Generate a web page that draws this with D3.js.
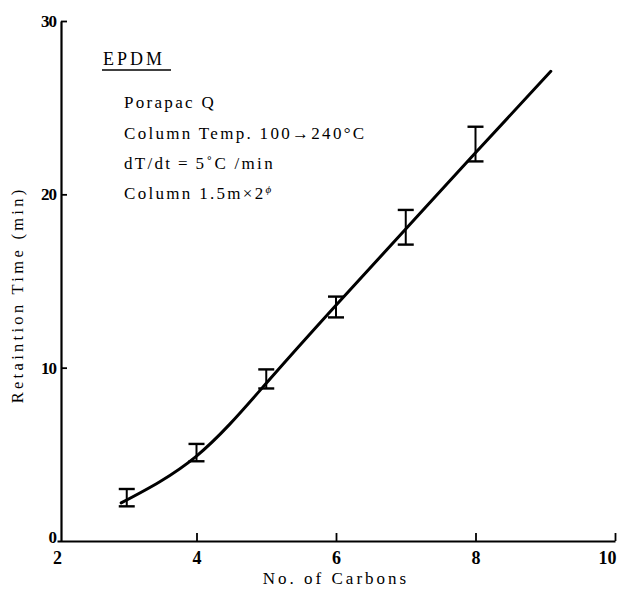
<!DOCTYPE html>
<html>
<head>
<meta charset="utf-8">
<script src="https://cdn.jsdelivr.net/npm/d3@7"></script>
<style>
  html, body { margin: 0; padding: 0; background: #fff; }
  svg text { font-family: "Liberation Serif", "DejaVu Serif", serif; fill: #000; }
</style>
</head>
<body>
<svg id="chart" width="622" height="592"></svg>
<script>
// Retention time of EPDM pyrolysis products vs. carbon number
const carbons   = [3, 4, 5, 6, 7, 8];
const timeLow   = [2.0, 4.6, 8.8, 12.9, 17.1, 21.9];
const timeHigh  = [3.0, 5.6, 9.9, 14.1, 19.1, 23.9];

// Hand-fitted calibration curve (carbon number, minutes)
const curveX = [2.92, 4.0, 5.0, 6.0, 7.0, 8.0, 9.08];
const curveY = [2.2, 4.9, 9.1, 13.6, 18.0, 22.4, 27.1];

const xTicks = [2, 4, 6, 8, 10];
const yTicks = [0, 10, 20, 30];

const notes = [
  "Porapac Q",
  "Column Temp. 100\u2192240\u00B0C",
  "dT/dt\u2009=\u20095\u02DAC /min"
];

const svg = d3.select("#chart");
const x = d3.scaleLinear().domain([2, 10]).range([57, 615]);
const y = d3.scaleLinear().domain([0, 30]).range([541, 21]);

// X axis with inward ticks
const xAxis = svg.append("g").attr("transform", `translate(0,${y(0)})`)
  .call(d3.axisBottom(x).tickValues(xTicks).tickSizeInner(-8).tickSizeOuter(0).tickPadding(14));
xAxis.select(".domain").attr("stroke", "#000").attr("stroke-width", 2.2);
xAxis.selectAll(".tick line").attr("stroke-width", 1.8)
  .attr("display", d => d === 2 ? "none" : null);
xAxis.selectAll(".tick text").attr("font-size", 18).attr("font-weight", "bold").attr("dy", "0.5em")
  .attr("dx", d => d === 10 ? -8 : 0);

// Y axis with ticks pointing into the plot
const yAxis = svg.append("g").attr("transform", `translate(${x(2) + 4},0)`)
  .call(d3.axisLeft(y).tickValues(yTicks).tickSizeInner(-6).tickSizeOuter(0).tickPadding(5));
yAxis.select(".domain").attr("stroke", "#000").attr("stroke-width", 2.2);
yAxis.selectAll(".tick line").attr("stroke-width", 1.8)
  .attr("display", d => d === 0 ? "none" : null);
yAxis.selectAll(".tick text").attr("font-size", 17).attr("font-weight", "bold")
  .attr("letter-spacing", -1)
  .attr("dy", d => d === 0 ? "0.1em" : "0.32em");

// Axis titles
svg.append("text")
  .attr("x", (x(2) + x(10)) / 2).attr("y", 584)
  .attr("text-anchor", "middle").attr("font-size", 17).attr("letter-spacing", 3)
  .text("No. of Carbons");

svg.append("text")
  .attr("transform", `translate(23,${y(14.2)}) rotate(-90)`)
  .attr("text-anchor", "middle").attr("font-size", 16.5).attr("letter-spacing", 3.3)
  .text("Retaintion Time (min)");

// Annotation block
svg.append("text")
  .attr("x", 103).attr("y", 65).attr("font-size", 18).attr("letter-spacing", 3)
  .text("EPDM");
svg.append("line").attr("x1", 102).attr("x2", 171).attr("y1", 70).attr("y2", 70)
  .attr("stroke", "#000").attr("stroke-width", 1.3);

const noteY = [108, 139, 169, 199];
notes.forEach((t, i) => {
  svg.append("text").attr("x", 124).attr("y", noteY[i])
    .attr("font-size", 17).attr("letter-spacing", 2.3).text(t);
});
const last = svg.append("text").attr("x", 124).attr("y", noteY[3])
  .attr("font-size", 17).attr("letter-spacing", 2.3);
last.append("tspan").text("Column 1.5m\u00D72");
last.append("tspan").attr("dy", -6).attr("font-size", 11).attr("font-style", "italic").text("\u03D5");

// Calibration curve
const curvePts = curveX.map((c, i) => [c, curveY[i]]);
svg.append("path")
  .datum(curvePts)
  .attr("fill", "none").attr("stroke", "#000").attr("stroke-width", 3)
  .attr("stroke-linecap", "round")
  .attr("d", d3.line().x(d => x(d[0])).y(d => y(d[1])).curve(d3.curveNatural));

// Error bars
const bars = svg.append("g").selectAll("g").data(carbons).join("g");
bars.append("line")
  .attr("x1", d => x(d)).attr("x2", d => x(d))
  .attr("y1", (d, i) => y(timeLow[i])).attr("y2", (d, i) => y(timeHigh[i]))
  .attr("stroke", "#000").attr("stroke-width", 2);
bars.append("line")
  .attr("x1", d => x(d) - 8).attr("x2", d => x(d) + 8)
  .attr("y1", (d, i) => y(timeHigh[i])).attr("y2", (d, i) => y(timeHigh[i]))
  .attr("stroke", "#000").attr("stroke-width", 2.4);
bars.append("line")
  .attr("x1", d => x(d) - 8).attr("x2", d => x(d) + 8)
  .attr("y1", (d, i) => y(timeLow[i])).attr("y2", (d, i) => y(timeLow[i]))
  .attr("stroke", "#000").attr("stroke-width", 2.4);
</script>
</body>
</html>
